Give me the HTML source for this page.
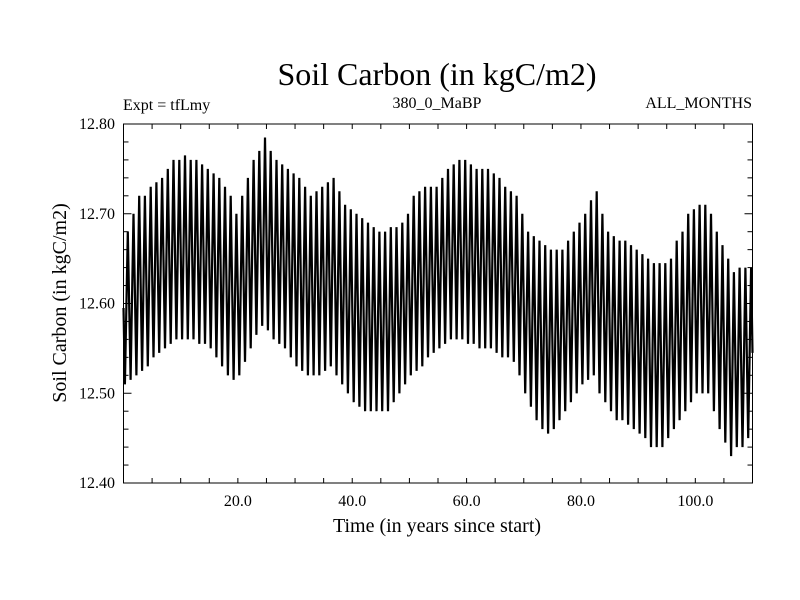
<!DOCTYPE html>
<html><head><meta charset="utf-8"><style>
html,body{margin:0;padding:0;background:#fff;}
svg{display:block;font-family:"Liberation Serif",serif;}
</style></head><body>
<svg id="chart" width="800" height="600" viewBox="0 0 800 600">
<rect width="800" height="600" fill="#fff"/>
<text x="437" y="85" font-size="32" text-anchor="middle">Soil Carbon (in kgC/m2)</text>
<text x="123" y="110" font-size="16">Expt = tfLmy</text>
<text x="437" y="108" font-size="16" text-anchor="middle">380_0_MaBP</text>
<text x="752" y="108" font-size="16" text-anchor="end">ALL_MONTHS</text>
<text x="0" y="0" font-size="20" text-anchor="middle" transform="translate(66,303) rotate(-90)">Soil Carbon (in kgC/m2)</text>
<text x="437" y="532" font-size="20" text-anchor="middle">Time (in years since start)</text>
<g id="axes"></g>
<g id="series"></g>
<rect x="123.5" y="124" width="629" height="359" fill="none" stroke="#000" stroke-width="1"/>
</svg>
<script>
const yearMax = [12.68,12.70,12.72,12.72,12.73,12.735,12.74,12.75,12.76,12.76,
12.765,12.76,12.76,12.755,12.75,12.745,12.74,12.73,12.72,12.70,
12.72,12.74,12.76,12.77,12.785,12.77,12.76,12.755,12.75,12.745,
12.74,12.73,12.72,12.725,12.73,12.735,12.74,12.725,12.71,12.705,
12.70,12.695,12.69,12.685,12.68,12.68,12.685,12.685,12.69,12.70,
12.72,12.725,12.73,12.73,12.73,12.74,12.75,12.755,12.76,12.76,
12.755,12.75,12.75,12.75,12.745,12.74,12.73,12.725,12.72,12.70,
12.68,12.675,12.67,12.665,12.66,12.66,12.66,12.67,12.68,12.69,
12.70,12.715,12.725,12.70,12.68,12.675,12.67,12.67,12.665,12.66,
12.655,12.65,12.645,12.645,12.645,12.65,12.67,12.68,12.70,12.705,
12.71,12.71,12.70,12.68,12.665,12.65,12.635,12.64,12.64,12.64];
const yearMin = [12.51,12.515,12.52,12.525,12.53,12.54,12.545,12.55,12.555,12.56,
12.56,12.56,12.56,12.555,12.555,12.55,12.54,12.53,12.52,12.515,
12.52,12.535,12.55,12.565,12.575,12.57,12.56,12.555,12.55,12.54,
12.53,12.525,12.52,12.52,12.52,12.525,12.53,12.52,12.51,12.50,
12.49,12.485,12.48,12.48,12.48,12.48,12.48,12.49,12.50,12.51,
12.52,12.525,12.53,12.54,12.545,12.55,12.555,12.56,12.56,12.56,
12.555,12.555,12.55,12.55,12.55,12.545,12.54,12.54,12.535,12.52,
12.50,12.485,12.47,12.46,12.455,12.46,12.47,12.48,12.49,12.50,
12.51,12.515,12.52,12.50,12.49,12.48,12.47,12.47,12.465,12.46,
12.455,12.45,12.44,12.44,12.44,12.45,12.46,12.47,12.48,12.49,
12.50,12.50,12.50,12.48,12.46,12.445,12.43,12.44,12.44,12.45];
const xTickValues = [20,40,60,80,100];
const xTickLabels = ["20.0","40.0","60.0","80.0","100.0"];
const yTickValues = [12.40,12.50,12.60,12.70,12.80];
const yTickLabels = ["12.40","12.50","12.60","12.70","12.80"];

const NS = "http://www.w3.org/2000/svg";
const X0=123.5, X1=752.5, Y0=483, Y1=124, XMIN=0, XMAX=110, YMIN=12.40, YMAX=12.80;
const xs = v => X0 + (v-XMIN)/(XMAX-XMIN)*(X1-X0);
const ys = v => Y0 - (v-YMIN)/(YMAX-YMIN)*(Y0-Y1);
function mk(tag, attrs){const e=document.createElementNS(NS,tag);for(const k in attrs)e.setAttribute(k,attrs[k]);return e;}
const axes=document.getElementById('axes');
for(let v=5; v<XMAX; v+=5){
  const len = 5;
  const t1=mk('line',{x1:xs(v),x2:xs(v),y1:Y0,y2:Y0-len,stroke:'#000','stroke-width':1});
  
  
  axes.appendChild(t1);
  const t2=mk('line',{x1:xs(v),x2:xs(v),y1:Y1,y2:Y1+len,stroke:'#000','stroke-width':1});
  
  
  axes.appendChild(t2);
}
for(let i=1;i<20;i++){
  const v=YMIN+i*0.02;
  const len=(i%5===0)?8:5;
  const t1=mk('line',{x1:X0,x2:X0+len,y1:ys(v),y2:ys(v),stroke:'#000','stroke-width':1});
  
  
  axes.appendChild(t1);
  const t2=mk('line',{x1:X1,x2:X1-len,y1:ys(v),y2:ys(v),stroke:'#000','stroke-width':1});
  
  
  axes.appendChild(t2);
}
xTickValues.forEach((v,i)=>{
  const t=mk('text',{x:xs(v),y:506,'font-size':16,'text-anchor':'middle'});
  t.textContent=xTickLabels[i];
  
  
  axes.appendChild(t);
});
yTickValues.forEach((v,i)=>{
  const t=mk('text',{x:115,y:ys(v)+5,'font-size':16,'text-anchor':'end'});
  t.textContent=yTickLabels[i];
  
  
  axes.appendChild(t);
});
let pts=[];
pts.push([xs(0), ys((yearMax[0]+yearMin[0])/2)]);
for(let i=0;i<yearMax.length;i++){
  pts.push([xs(i+0.25), ys(yearMin[i])]);
  pts.push([xs(i+0.75), ys(yearMax[i])]);
}
pts.push([xs(XMAX), ys((yearMax[yearMax.length-1]+yearMin[yearMin.length-1])/2)]);
const path=mk('polyline',{points:pts.map(p=>p[0].toFixed(1)+','+p[1].toFixed(1)).join(' '),fill:'none',stroke:'#000','stroke-width':2.2,'stroke-linejoin':'miter'});


document.getElementById('series').appendChild(path);
</script>
</body></html>
